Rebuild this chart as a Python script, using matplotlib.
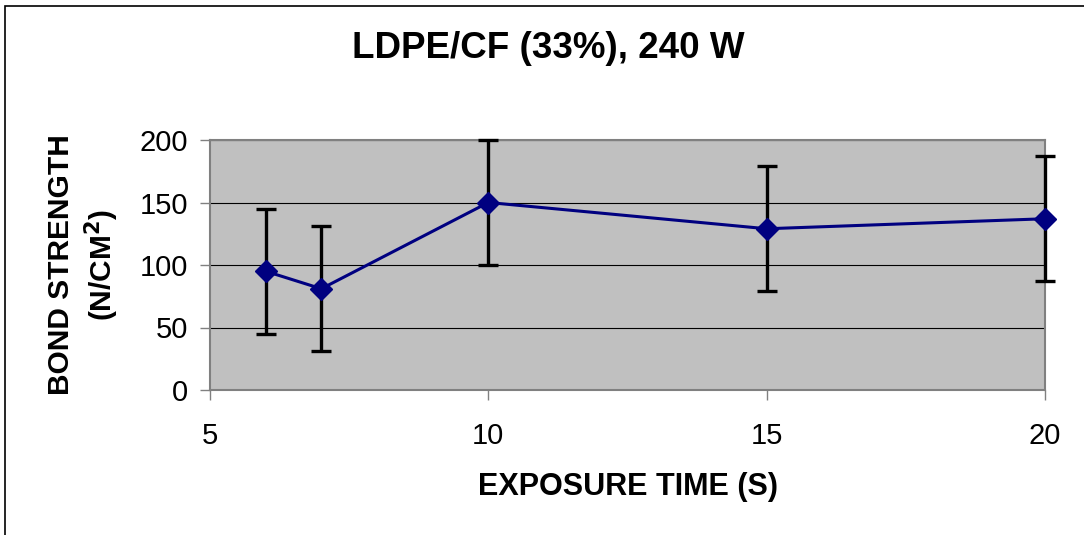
import numpy as np
import matplotlib.pyplot as plt
from matplotlib.patches import Rectangle

exposure_time = [6, 7, 10, 15, 20]
bond_strength = [95, 81, 150, 129, 137]
bond_error = [50, 50, 50, 50, 50]
x_ticks = [5, 10, 15, 20]
y_ticks = [0, 50, 100, 150, 200]

plt.rcParams['font.family'] = ['Liberation Sans', 'DejaVu Sans']


def create_plot():
    fig = plt.figure(figsize=(10.84, 5.35), dpi=100)
    ax = fig.add_axes([210 / 1084, 1 - 390 / 535, (1045 - 210) / 1084, (390 - 140) / 535])

    ax.set_facecolor('#C0C0C0')
    ax.set_xlim(5, 20)
    ax.set_ylim(0, 200)
    ax.set_xticks(x_ticks)
    ax.set_yticks(y_ticks)

    # horizontal gridlines only
    ax.yaxis.grid(True, color='black', linewidth=0.8)
    ax.set_axisbelow(True)

    eb = ax.errorbar(exposure_time, bond_strength, yerr=bond_error, fmt='none',
                     ecolor='black', elinewidth=2.4, capsize=7, capthick=2.4, zorder=3)
    for art in eb.lines[1] + eb.lines[2]:
        art.set_clip_on(False)
    ax.plot(exposure_time, bond_strength, color='#000080', linewidth=2.2,
            marker='D', markersize=11, zorder=4, clip_on=False)

    for side in ax.spines.values():
        side.set_color('#808080')
        side.set_linewidth(1.5)

    ax.tick_params(axis='both', direction='out', length=7, width=1,
                   color='#808080', labelsize=21)
    ax.tick_params(axis='y', pad=9)
    ax.tick_params(axis='x', pad=16)

    ax.set_xlabel('EXPOSURE TIME (S)', fontsize=22, fontweight='bold', labelpad=16)
    ax.set_ylabel('BOND STRENGTH\n(N/CM$^\\mathbf{2}$)', fontsize=21.5,
                  fontweight='bold', labelpad=13, linespacing=1.25)
    fig.suptitle('LDPE/CF (33%), 240 W', fontsize=26.5, fontweight='bold',
                 x=548 / 1084, y=1 - 48 / 535, va='center')

    # outer chart frame
    fig.patches.append(Rectangle((5 / 1084, -0.1), 1.2, 1 - 6 / 535 + 0.1,
                                 transform=fig.transFigure, fill=False,
                                 edgecolor='black', linewidth=1.2))

    fig.savefig('out.png', dpi=100)


if __name__ == '__main__':
    create_plot()
